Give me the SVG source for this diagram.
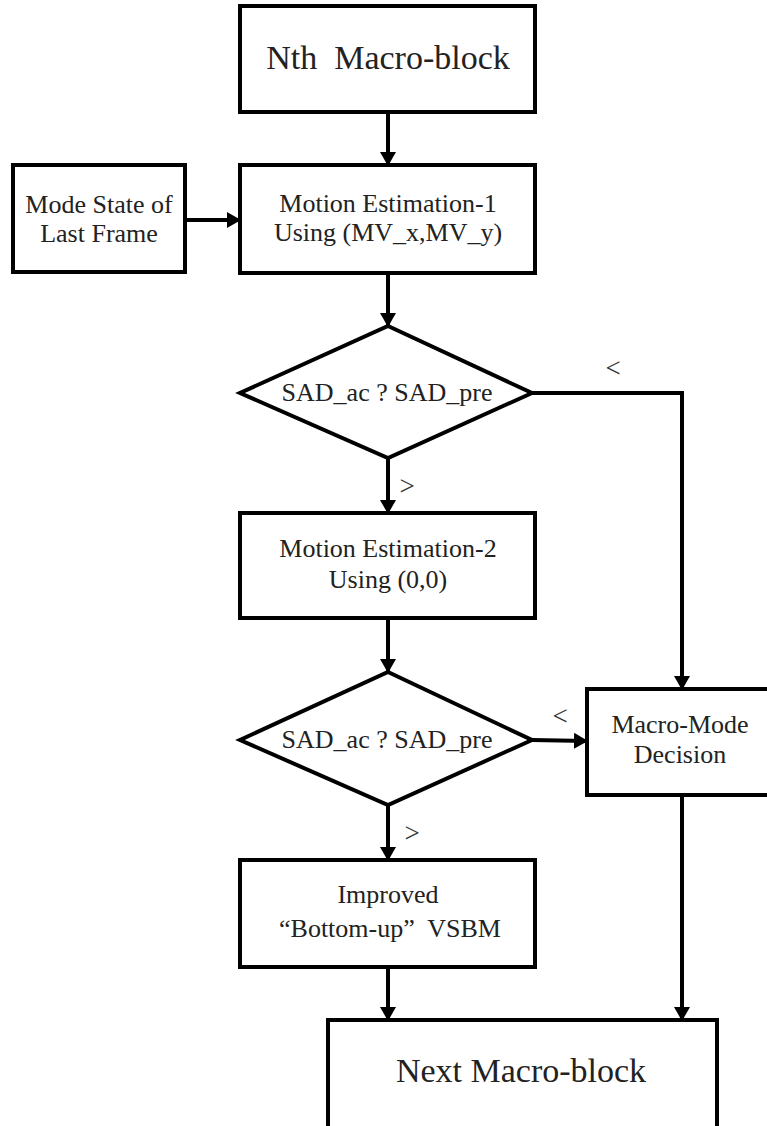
<svg xmlns="http://www.w3.org/2000/svg" width="767" height="1126" viewBox="0 0 767 1126">
<style>
.box{fill:#fff;stroke:#000;stroke-width:4}
.t{font-family:"Liberation Serif","Times New Roman",serif;fill:#222;text-anchor:middle}
.m{font-size:26px}
.b{font-size:34px}
.lbl{font-family:"Liberation Serif","Times New Roman",serif;fill:#333;font-size:27px;text-anchor:middle}
.c{fill:none;stroke:#000;stroke-width:4}
</style>
<defs>
<marker id="ah" markerUnits="userSpaceOnUse" markerWidth="14" markerHeight="16" refX="13" refY="8" orient="auto">
<path d="M0,0 L14,8 L0,16 z" fill="#000"/>
</marker>
</defs>
<rect width="767" height="1126" fill="#fff"/>
<g id="connectors">
<line class="c" x1="388" y1="112" x2="388" y2="165" marker-end="url(#ah)"/>
<line class="c" x1="185" y1="220" x2="240" y2="220" marker-end="url(#ah)"/>
<line class="c" x1="388" y1="273" x2="388" y2="326" marker-end="url(#ah)"/>
<polyline class="c" points="532,393 682,393 682,689" marker-end="url(#ah)"/>
<line class="c" x1="388" y1="458" x2="388" y2="513" marker-end="url(#ah)"/>
<line class="c" x1="388" y1="618" x2="388" y2="672" marker-end="url(#ah)"/>
<line class="c" x1="532" y1="740" x2="587" y2="741" marker-end="url(#ah)"/>
<line class="c" x1="388" y1="805" x2="388" y2="860" marker-end="url(#ah)"/>
<line class="c" x1="388" y1="967" x2="388" y2="1020" marker-end="url(#ah)"/>
<line class="c" x1="682" y1="795" x2="682" y2="1020" marker-end="url(#ah)"/>
<text class="lbl" x="613" y="377">&lt;</text>
<text class="lbl" x="407" y="495">&gt;</text>
<text class="lbl" x="560" y="725">&lt;</text>
<text class="lbl" x="412" y="842">&gt;</text>
</g>
<g id="nth">
<rect class="box" x="240" y="6" width="295" height="106"/>
<text class="t b" x="388" y="69" xml:space="preserve">Nth  Macro-block</text>
</g>
<g id="mode-state">
<rect class="box" x="13" y="165" width="172" height="107"/>
<text class="t m" x="99" y="213">Mode State of</text>
<text class="t m" x="99" y="242">Last Frame</text>
</g>
<g id="me1">
<rect class="box" x="240" y="165" width="295" height="108"/>
<text class="t m" x="388" y="212">Motion Estimation-1</text>
<text class="t m" x="388" y="241">Using (MV_x,MV_y)</text>
</g>
<g id="dec1">
<polygon class="box" points="388,326 532,393 388,458 240,393"/>
<text class="t m" x="387" y="401">SAD_ac ? SAD_pre</text>
</g>
<g id="me2">
<rect class="box" x="240" y="513" width="295" height="105"/>
<text class="t m" x="388" y="557">Motion Estimation-2</text>
<text class="t m" x="388" y="588">Using (0,0)</text>
</g>
<g id="dec2">
<polygon class="box" points="388,672 532,740 388,805 240,740"/>
<text class="t m" x="387" y="748">SAD_ac ? SAD_pre</text>
</g>
<g id="macro-mode">
<rect class="box" x="587" y="689" width="192" height="106"/>
<text class="t m" x="680" y="733">Macro-Mode</text>
<text class="t m" x="680" y="763">Decision</text>
</g>
<g id="vsbm">
<rect class="box" x="240" y="860" width="295" height="107"/>
<text class="t m" x="388" y="903">Improved</text>
<text class="t m" x="390" y="937" xml:space="preserve">“Bottom-up”  VSBM</text>
</g>
<g id="next">
<rect class="box" x="328" y="1020" width="389" height="112"/>
<text class="t b" x="521" y="1082">Next Macro-block</text>
</g>
</svg>
